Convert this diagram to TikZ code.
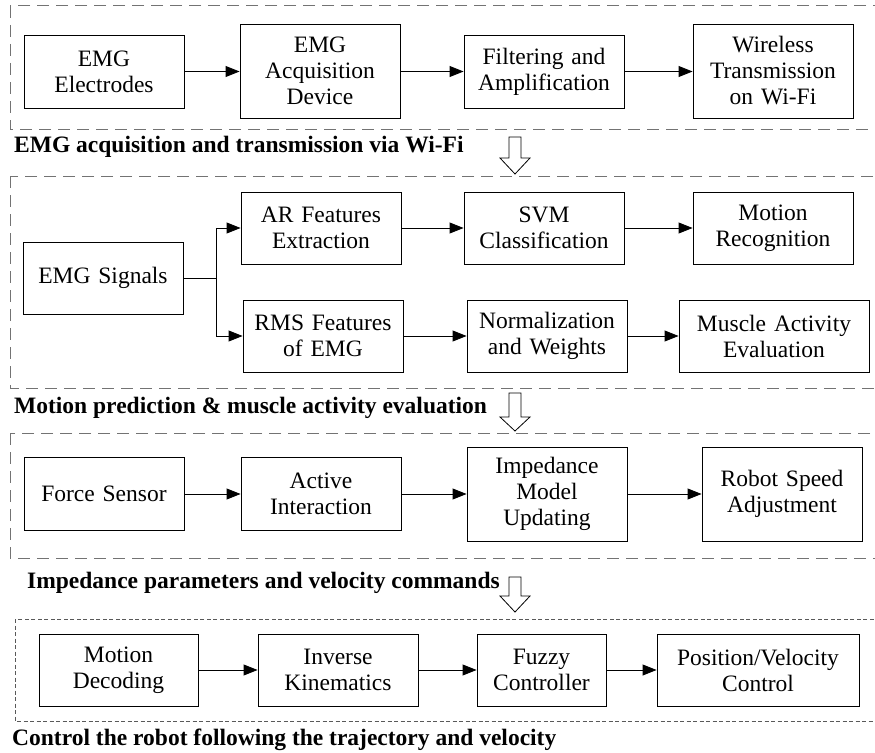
\documentclass[tikz,border=0pt]{standalone}
\usepackage{fontspec}
\setmainfont{Liberation Serif}
\usetikzlibrary{arrows.meta}
\begin{document}
\begin{tikzpicture}[x=1pt,y=-1pt,
  blk/.style={draw, line width=0.9pt, align=center, inner sep=0pt, text width=#1, minimum width=#1,
     font=\fontsize{23.5}{26}\selectfont},
  blk/.default=160pt,
  arr/.style={line width=0.9pt, -{Triangle[length=14pt,width=11pt]}},
  ln/.style={line width=0.9pt},
  grp/.style={line width=1pt, draw=black!55, dash pattern=on 12pt off 7pt},
  grpfine/.style={line width=1pt, draw=black!65, dash pattern=on 4pt off 2.5pt},
  lab/.style={anchor=west, inner sep=0pt, font=\fontsize{23.5}{26}\selectfont\bfseries},
  hollow/.style={draw, line width=0.8pt, fill=white}
]
\clip (0,0) rectangle (875,752);
\fill[white] (0,0) rectangle (875,752);

% group frames
\draw[grp] (10,6) rectangle (885,129);
\draw[grp] (10,176) rectangle (885,388);
\draw[grp] (10,433) rectangle (885,558);
\draw[grpfine] (15,619) rectangle (885,721);

% row 1
\node[blk, minimum height=73pt] (e1) at (104,71.5) {EMG\\Electrodes};
\node[blk, minimum height=94pt] (e2) at (320,71) {EMG\\Acquisition\\Device};
\node[blk, minimum height=73pt] (e3) at (544,71.5) {Filtering and\\Amplification};
\node[blk, minimum height=94pt] (e4) at (773,71) {Wireless\\Transmission\\on Wi-Fi};
\draw[arr] (e1.east) -- (e1.east -| e2.west);
\draw[arr] (e2.east |- e3.west) -- (e3.west);
\draw[arr] (e3.east) -- (e3.east -| e4.west);

% row 2
\node[blk, minimum height=72pt] (sig) at (103,278) {EMG Signals};
\node[blk, minimum height=72pt] (ar) at (321,228) {AR Features\\Extraction};
\node[blk, minimum height=72pt] (svm) at (544,228) {SVM\\Classification};
\node[blk, minimum height=72pt] (mr) at (773,228) {Motion\\Recognition};
\node[blk, minimum height=72pt] (rms) at (323,336) {RMS Features\\of EMG};
\node[blk, minimum height=72pt] (nw) at (547,336) {Normalization\\and Weights};
\node[blk=190pt, minimum height=72pt] (ma) at (774,336) {Muscle Activity\\Evaluation};
\coordinate (br) at (216,278);
\draw[ln] (sig.east) -- (br);
\draw[arr] (br) |- (ar.west);
\draw[arr] (br) |- (rms.west);
\draw[arr] (ar) -- (svm);
\draw[arr] (svm) -- (mr);
\draw[arr] (rms) -- (nw);
\draw[arr] (nw) -- (ma);

% row 3
\node[blk, minimum height=73pt] (fs) at (104,494) {Force Sensor};
\node[blk, minimum height=73pt] (ai) at (321,494) {Active\\Interaction};
\node[blk, minimum height=94pt] (im) at (547,494) {Impedance\\Model\\Updating};
\node[blk, minimum height=94pt] (rs) at (782,494) {Robot Speed\\Adjustment};
\draw[arr] (fs) -- (ai);
\draw[arr] (ai) -- (im);
\draw[arr] (im) -- (rs);

% row 4
\node[blk=159pt, minimum height=72pt] (md) at (118.5,670) {Motion\\Decoding};
\node[blk, minimum height=72pt] (ik) at (338,670) {Inverse\\Kinematics};
\node[blk=129pt, minimum height=72pt] (fc) at (541.5,670) {Fuzzy\\Controller};
\node[blk=202pt, minimum height=72pt] (pv) at (758,670) {Position/Velocity\\Control};
\draw[arr] (md) -- (ik);
\draw[arr] (ik) -- (fc);
\draw[arr] (fc) -- (pv);

% labels
\node[lab] (l1) at (14,147) {EMG acquisition and transmission via Wi-Fi};
\node[lab] (l2) at (14,408) {Motion prediction \& muscle activity evaluation};
\node[lab] (l3) at (27,583) {Impedance parameters and velocity commands};
\node[lab] (l4) at (12,740) {Control the robot following the trajectory and velocity};

% hollow arrows
\draw[hollow] (509,137) -- (521,137) -- (521,158) -- (530,158) -- (515,174) -- (500,158) -- (509,158) -- cycle;
\draw[hollow] (509,393) -- (521,393) -- (521,417) -- (530,417) -- (515,431) -- (500,417) -- (509,417) -- cycle;
\draw[hollow] (509,577) -- (521,577) -- (521,596) -- (530,596) -- (515,612) -- (500,596) -- (509,596) -- cycle;
\end{tikzpicture}
\end{document}
